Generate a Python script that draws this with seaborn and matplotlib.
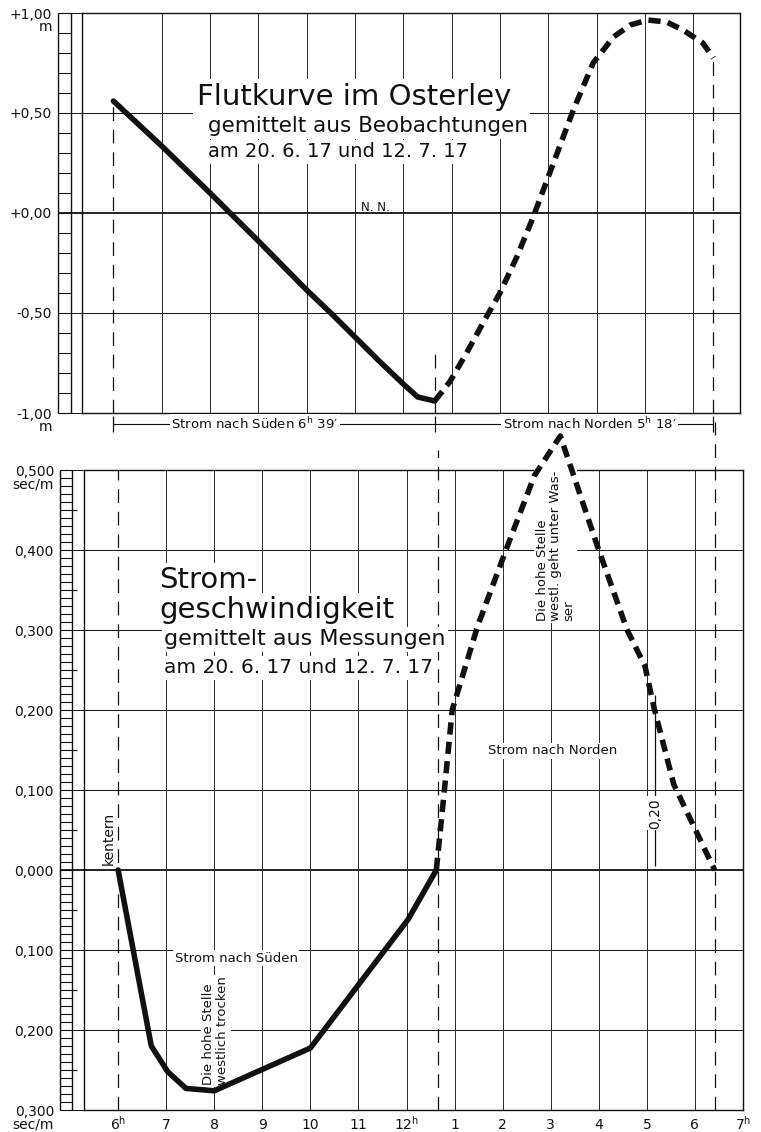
import numpy as np
import matplotlib
matplotlib.use('Agg')
import matplotlib.pyplot as plt
import matplotlib.transforms as mtransforms
import seaborn as sns

sns.set_style('white')
plt.rcParams['font.family'] = ['DejaVu Sans']

# hours of the day, 6 = 6h morning ... 18 = 6h evening, 19 = 7h
hour_ticks = list(range(6, 20))
hour_labels = ['6$^\\mathregular{h}$', '7', '8', '9', '10', '11', '12$^\\mathregular{h}$',
               '1', '2', '3', '4', '5', '6', '7$^\\mathregular{h}$']

t_start = 6.0    # kentern
t_turn = 12.65   # + 6h 39'
t_end = 18.42

# Flutkurve (m ueber N.N.)
tide_fall_t = [6.0, 7.0, 8.0, 9.0, 10.0, 10.5, 11.0, 11.5, 12.0, 12.3, 12.65]
tide_fall_m = [0.56, 0.335, 0.10, -0.14, -0.385, -0.50, -0.62, -0.74, -0.855, -0.92, -0.94]
tide_rise_t = [12.65, 12.96, 13.31, 13.65, 14.0, 14.35, 14.69, 15.0, 15.52, 15.93,
               16.35, 16.7, 17.06, 17.45, 17.79, 18.2, 18.42]
tide_rise_m = [-0.94, -0.845, -0.70, -0.55, -0.40, -0.22, -0.02, 0.18, 0.515, 0.75,
               0.88, 0.94, 0.965, 0.955, 0.915, 0.85, 0.775]

# Stromgeschwindigkeit (sec/m), negative = Strom nach Sueden
south_t = [6.0, 6.69, 7.03, 7.41, 8.0, 10.0, 12.03, 12.62]
south_v = [0.0, -0.22, -0.252, -0.273, -0.276, -0.2225, -0.062, 0.0]
north_t = [12.62, 12.8, 12.95, 13.48, 14.1, 14.66, 15.2, 15.97, 16.59, 16.96, 17.15, 17.56, 18.41]
north_v = [0.0, 0.107, 0.2, 0.305, 0.405, 0.493, 0.5425, 0.405, 0.30, 0.255, 0.2025, 0.107, 0.0]

top_yticks = [1.0, 0.5, 0.0, -0.5, -1.0]
top_ylabels = ['', '+0,50', '+0,00', '-0,50', '']
bot_yticks = [0.5, 0.4, 0.3, 0.2, 0.1, 0.0, -0.1, -0.2, -0.3]
bot_ylabels = ['', '0,400', '0,300', '0,200', '0,100', '0,000', '0,100', '0,200', '']

INK = '#111111'
GRID = '#2a2a2a'
BOX = dict(boxstyle='square,pad=0.12', fc='white', ec='none')
THICK = 4.0
BIG_DASH = (0, (2.2, 1.3))
THIN_DASH = (0, (11, 7))

fig = plt.figure(figsize=(7.61, 11.32), dpi=100)
ax1 = fig.add_axes([82 / 761, 1 - 413 / 1132, 658 / 761, 400 / 1132])
ax2 = fig.add_axes([84 / 761, 1 - 1110 / 1132, 659 / 761, 640 / 1132])


def frame(ax, xlim, ylim, majors, minor_step, ruler_x, zero_lw):
    ax.set_xlim(*xlim)
    ax.set_ylim(*ylim)
    for s in ax.spines.values():
        s.set_color(INK)
        s.set_linewidth(1.0)
    tr = mtransforms.blended_transform_factory(ax.transAxes, ax.transData)
    x0, x1 = ruler_x
    # ruler on the left
    ax.vlines([x0, x1], ylim[0], ylim[1], transform=tr, colors=INK, lw=1.0, clip_on=False)
    ax.hlines(np.arange(ylim[0], ylim[1] + minor_step / 2, minor_step), x0, x1,
              transform=tr, colors=INK, lw=0.8, clip_on=False)
    # major horizontal lines
    for y in majors:
        ax.hlines(y, x0, 1, transform=tr, colors=INK, lw=zero_lw if y == 0 else 0.7,
                  clip_on=False, zorder=1)
    # hour grid
    ax.vlines(hour_ticks[1:-1], ylim[0], ylim[1], colors=GRID, lw=0.7, zorder=1)
    ax.set_yticks(majors)
    ax.tick_params(axis='both', length=0, labelsize=10, colors=INK)
    return tr


def unit_label(ax, tr, x, y, txt):
    ax.text(x, y, txt, transform=tr, ha='right', va='top', multialignment='right',
            fontsize=10, linespacing=0.85, color=INK)


# ---------------- top: Flutkurve ----------------
tr1 = frame(ax1, (5.35, 18.97), (-1.0, 1.0), top_yticks, 0.1, (-0.0365, -0.0167), 1.3)
ax1.set_yticklabels(top_ylabels)
ax1.tick_params(axis='y', pad=22)
ax1.set_xticks([])
unit_label(ax1, tr1, -0.0455, 1.025, '+1,00\nm')
unit_label(ax1, tr1, -0.0455, -0.975, '-1,00\nm')

sns.lineplot(x=tide_fall_t, y=tide_fall_m, ax=ax1, color=INK, lw=THICK, sort=False,
             zorder=5, clip_on=False)
sns.lineplot(x=tide_rise_t, y=tide_rise_m, ax=ax1, color=INK, lw=THICK, sort=False,
             zorder=5, clip_on=False, linestyle=BIG_DASH, dash_capstyle='butt')

ax1.vlines(t_start, -1.0, tide_fall_m[0], colors=INK, lw=0.9, linestyle=THIN_DASH)
ax1.vlines(t_turn, -1.0, -0.675, colors=INK, lw=0.9, linestyle=THIN_DASH)
ax1.vlines(t_end, -1.0, tide_rise_m[-1], colors=INK, lw=0.9, linestyle=THIN_DASH)

# Strom nach Sueden / Norden between the panels
ax1.hlines(-1.055, t_start, t_end, colors=INK, lw=0.8, clip_on=False)
ax1.vlines([t_start, t_turn, t_end], -1.015, -1.095, colors=INK, lw=0.9, clip_on=False)
ax1.text(8.93, -1.055, 'Strom nach Süden 6$^\\mathregular{h}$ 39′', ha='center',
         va='center', fontsize=9.5, color=INK, bbox=BOX, clip_on=False)
ax1.text(15.86, -1.055, 'Strom nach Norden 5$^\\mathregular{h}$ 18′', ha='center',
         va='center', fontsize=9.5, color=INK, bbox=BOX, clip_on=False)

ax1.text(7.73, 0.54, 'Flutkurve im Osterley', ha='left', va='baseline', fontsize=21,
         color=INK, bbox=BOX, zorder=4)
ax1.text(7.95, 0.405, 'gemittelt aus Beobachtungen', ha='left', va='baseline', fontsize=15.5,
         color=INK, bbox=BOX, zorder=3)
ax1.text(7.95, 0.278, 'am 20. 6. 17 und 12. 7. 17', ha='left', va='baseline', fontsize=14,
         color=INK, bbox=BOX, zorder=3)
ax1.text(11.43, 0.012, 'N. N.', ha='center', va='baseline', fontsize=8.5, color=INK)

# ---------------- bottom: Stromgeschwindigkeit ----------------
tr2 = frame(ax2, (5.29, 18.93), (-0.3, 0.5), bot_yticks, 0.01, (-0.0364, -0.0182), 1.3)
ax2.set_yticklabels(bot_ylabels)
ax2.tick_params(axis='y', pad=22)
ax2.hlines(np.arange(-0.25, 0.5, 0.1), -0.0182, -0.010, transform=tr2, colors=INK, lw=0.8,
           clip_on=False)
ax2.set_xticks(hour_ticks)
ax2.set_xticklabels(hour_labels)
ax2.tick_params(axis='x', pad=14)
for lab in ax2.get_xticklabels():
    lab.set_verticalalignment('baseline')
unit_label(ax2, tr2, -0.0455, 0.506, '0,500\nsec/m')
unit_label(ax2, tr2, -0.0455, -0.294, '0,300\nsec/m')

sns.lineplot(x=south_t, y=south_v, ax=ax2, color=INK, lw=THICK, sort=False,
             zorder=5, clip_on=False)
sns.lineplot(x=north_t, y=north_v, ax=ax2, color=INK, lw=THICK, sort=False,
             zorder=5, clip_on=False, linestyle=BIG_DASH, dash_capstyle='butt')

ax2.vlines(t_start, -0.3, 0.5, colors=INK, lw=0.9, linestyle=THIN_DASH)
ax2.vlines(t_turn, -0.3, 0.525, colors=INK, lw=0.9, linestyle=THIN_DASH, clip_on=False)
ax2.vlines(t_end, -0.3, 0.56, colors=INK, lw=0.9, linestyle=THIN_DASH, clip_on=False)

ax2.text(6.86, 0.3525, 'Strom-', ha='left', va='baseline', fontsize=21, color=INK,
         bbox=BOX, zorder=4)
ax2.text(6.86, 0.315, 'geschwindigkeit', ha='left', va='baseline', fontsize=21, color=INK,
         bbox=BOX, zorder=4)
ax2.text(6.96, 0.281, 'gemittelt aus Messungen', ha='left', va='baseline', fontsize=16,
         color=INK, bbox=BOX, zorder=3)
ax2.text(6.96, 0.246, 'am 20. 6. 17 und 12. 7. 17', ha='left', va='baseline', fontsize=14.5,
         color=INK, bbox=BOX, zorder=3)

ax2.text(15.04, 0.149, 'Strom nach Norden', ha='center', va='center', fontsize=9.5,
         color=INK, bbox=BOX, zorder=3)
ax2.text(8.46, -0.11, 'Strom nach Süden', ha='center', va='center', fontsize=9.5,
         color=INK, bbox=BOX, zorder=3)
ax2.text(15.1, 0.311, 'Die hohe Stelle\nwestl. geht unter Was-\nser', rotation=90,
         ha='center', va='bottom', multialignment='left', fontsize=9.5, color=INK,
         linespacing=1.05, bbox=BOX, zorder=3)
ax2.text(8.03, -0.269, 'Die hohe Stelle\nwestlich trocken', rotation=90,
         ha='center', va='bottom', multialignment='left', fontsize=9.5, color=INK,
         linespacing=1.05, bbox=BOX, zorder=3)
ax2.text(5.8, 0.006, 'kentern', rotation=90, ha='center', va='bottom', fontsize=10,
         color=INK, bbox=BOX, zorder=3)

ax2.vlines(17.17, 0.005, 0.219, colors=INK, lw=0.9, zorder=2)
ax2.text(17.17, 0.071, '0,20', rotation=90, ha='center', va='center', fontsize=10,
         color=INK, bbox=BOX, zorder=3)

fig.savefig('out.png', dpi=100, facecolor='white')
